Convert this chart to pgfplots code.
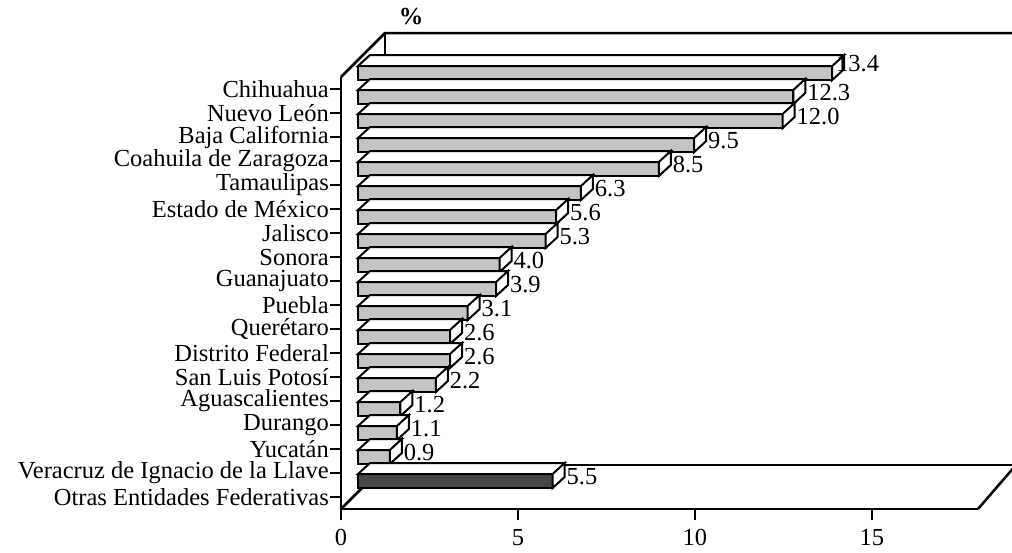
\documentclass[border=0pt]{standalone}
\usepackage{fontspec}
\setmainfont{Liberation Serif}
\usepackage{pgfplots}
\usepackage{pgfplotstable}
\pgfplotsset{compat=1.18}

\definecolor{barlight}{RGB}{196,196,196}
\definecolor{bardark}{RGB}{70,70,70}
\newcommand\chartfont{\fontsize{24.5bp}{26bp}\selectfont}

% top and right faces of a 3D bar, \barv is the value of the bar
\pgfdeclareplotmark{barcap}{%
  \pgfmathsetlengthmacro\capL{\barv*35.389bp}%
  \pgfpathmoveto{\pgfqpoint{17bp}{9bp}}%
  \pgfpathlineto{\pgfqpoint{17bp}{23bp}}%
  \pgfpathlineto{\pgfqpoint{29bp}{34bp}}%
  \pgfpathlineto{\pgfqpoint{29bp}{20bp}}%
  \pgfpathclose
  \pgfpathmoveto{\pgfpoint{17bp-\capL}{23bp}}%
  \pgfpathlineto{\pgfqpoint{17bp}{23bp}}%
  \pgfpathlineto{\pgfqpoint{29bp}{34bp}}%
  \pgfpathlineto{\pgfpoint{29bp-\capL}{34bp}}%
  \pgfpathclose
  \pgfusepathqfillstroke
}

% k = row from the top, v = %
\pgfplotstableread{
k v
0 13.4
1 12.3
2 12.0
3 9.5
4 8.5
5 6.3
6 5.6
7 5.3
8 4.0
9 3.9
10 3.1
11 2.6
12 2.6
13 2.2
14 1.2
15 1.1
16 0.9
}\estados
\pgfplotstableread{
k v
17 5.5
}\otras

\pgfplotsset{
  cap/.style={only marks, mark=barcap,
    mark options={draw=black, fill=white, line width=2bp, line join=miter},
    visualization depends on={x \as \barv},
    visualization depends on={y \as \rowk},
    nodes near coords, point meta=explicit symbolic,
    nodes near coords align={horizontal},
    every node near coord/.append style={anchor=west, inner sep=0pt,
      xshift={ifthenelse(\rowk<0.5,20,30)*1bp},
      yshift={ifthenelse(\rowk<0.5,25,20)*1bp}, black, font=\chartfont}},
  front/.style={xbar, bar width=14bp, bar shift=0pt, draw=black,
    line width=2bp, line join=miter, fill=#1, xshift=17bp, yshift=16bp},
}

\begin{document}
\chartfont
\begin{tikzpicture}[font=\chartfont]
% walls and floor
\begin{scope}[line width=2.5bp, line join=miter]
\draw (341bp,-77bp) -- (385bp,-33bp) -- (1040bp,-33bp);
\draw (385bp,-33bp) -- (385bp,-465bp) -- (1040bp,-465bp);
\draw (341bp,-509bp) -- (385bp,-465bp);
\draw (978bp,-509bp) -- (1016bp,-465bp);
\end{scope}
\node[font=\chartfont\bfseries] at (411bp,-17bp) {\%};

\begin{axis}[
  at={(341bp,-509bp)}, anchor=south west,
  scale only axis, width=637bp, height=432bp,
  xmin=0, xmax=18, ymin=-0.5, ymax=17.5, y dir=reverse,
  clip=false,
  axis x line*=bottom, axis y line*=left,
  axis line style={-, line width=2.5bp, black},
  tick align=outside, major tick length=11bp,
  tick style={line width=2.5bp, black},
  xtick={0,5,10,15},
  ytick={0,...,17},
  yticklabels={Chihuahua, Nuevo León, Baja California, Coahuila de Zaragoza,
    Tamaulipas, Estado de México, Jalisco, Sonora, Guanajuato, Puebla,
    Querétaro, Distrito Federal, San Luis Potosí, Aguascalientes, Durango,
    Yucatán, Veracruz de Ignacio de la Llave, Otras Entidades Federativas},
  /pgf/number format/assume math mode=true,
  xticklabel style={inner sep=1bp, yshift=-8bp},
  yticklabel style={inner sep=1bp},
]
\addplot[cap] table[x=v, y=k, meta=v] {\estados};
\addplot[cap] table[x=v, y=k, meta=v] {\otras};
\addplot[front=barlight] table[x=v, y=k] {\estados};
\addplot[front=bardark] table[x=v, y=k] {\otras};
\end{axis}
\pgfresetboundingbox
\path[use as bounding box] (0bp,0bp) rectangle (1012bp,-553bp);
\end{tikzpicture}
\end{document}
